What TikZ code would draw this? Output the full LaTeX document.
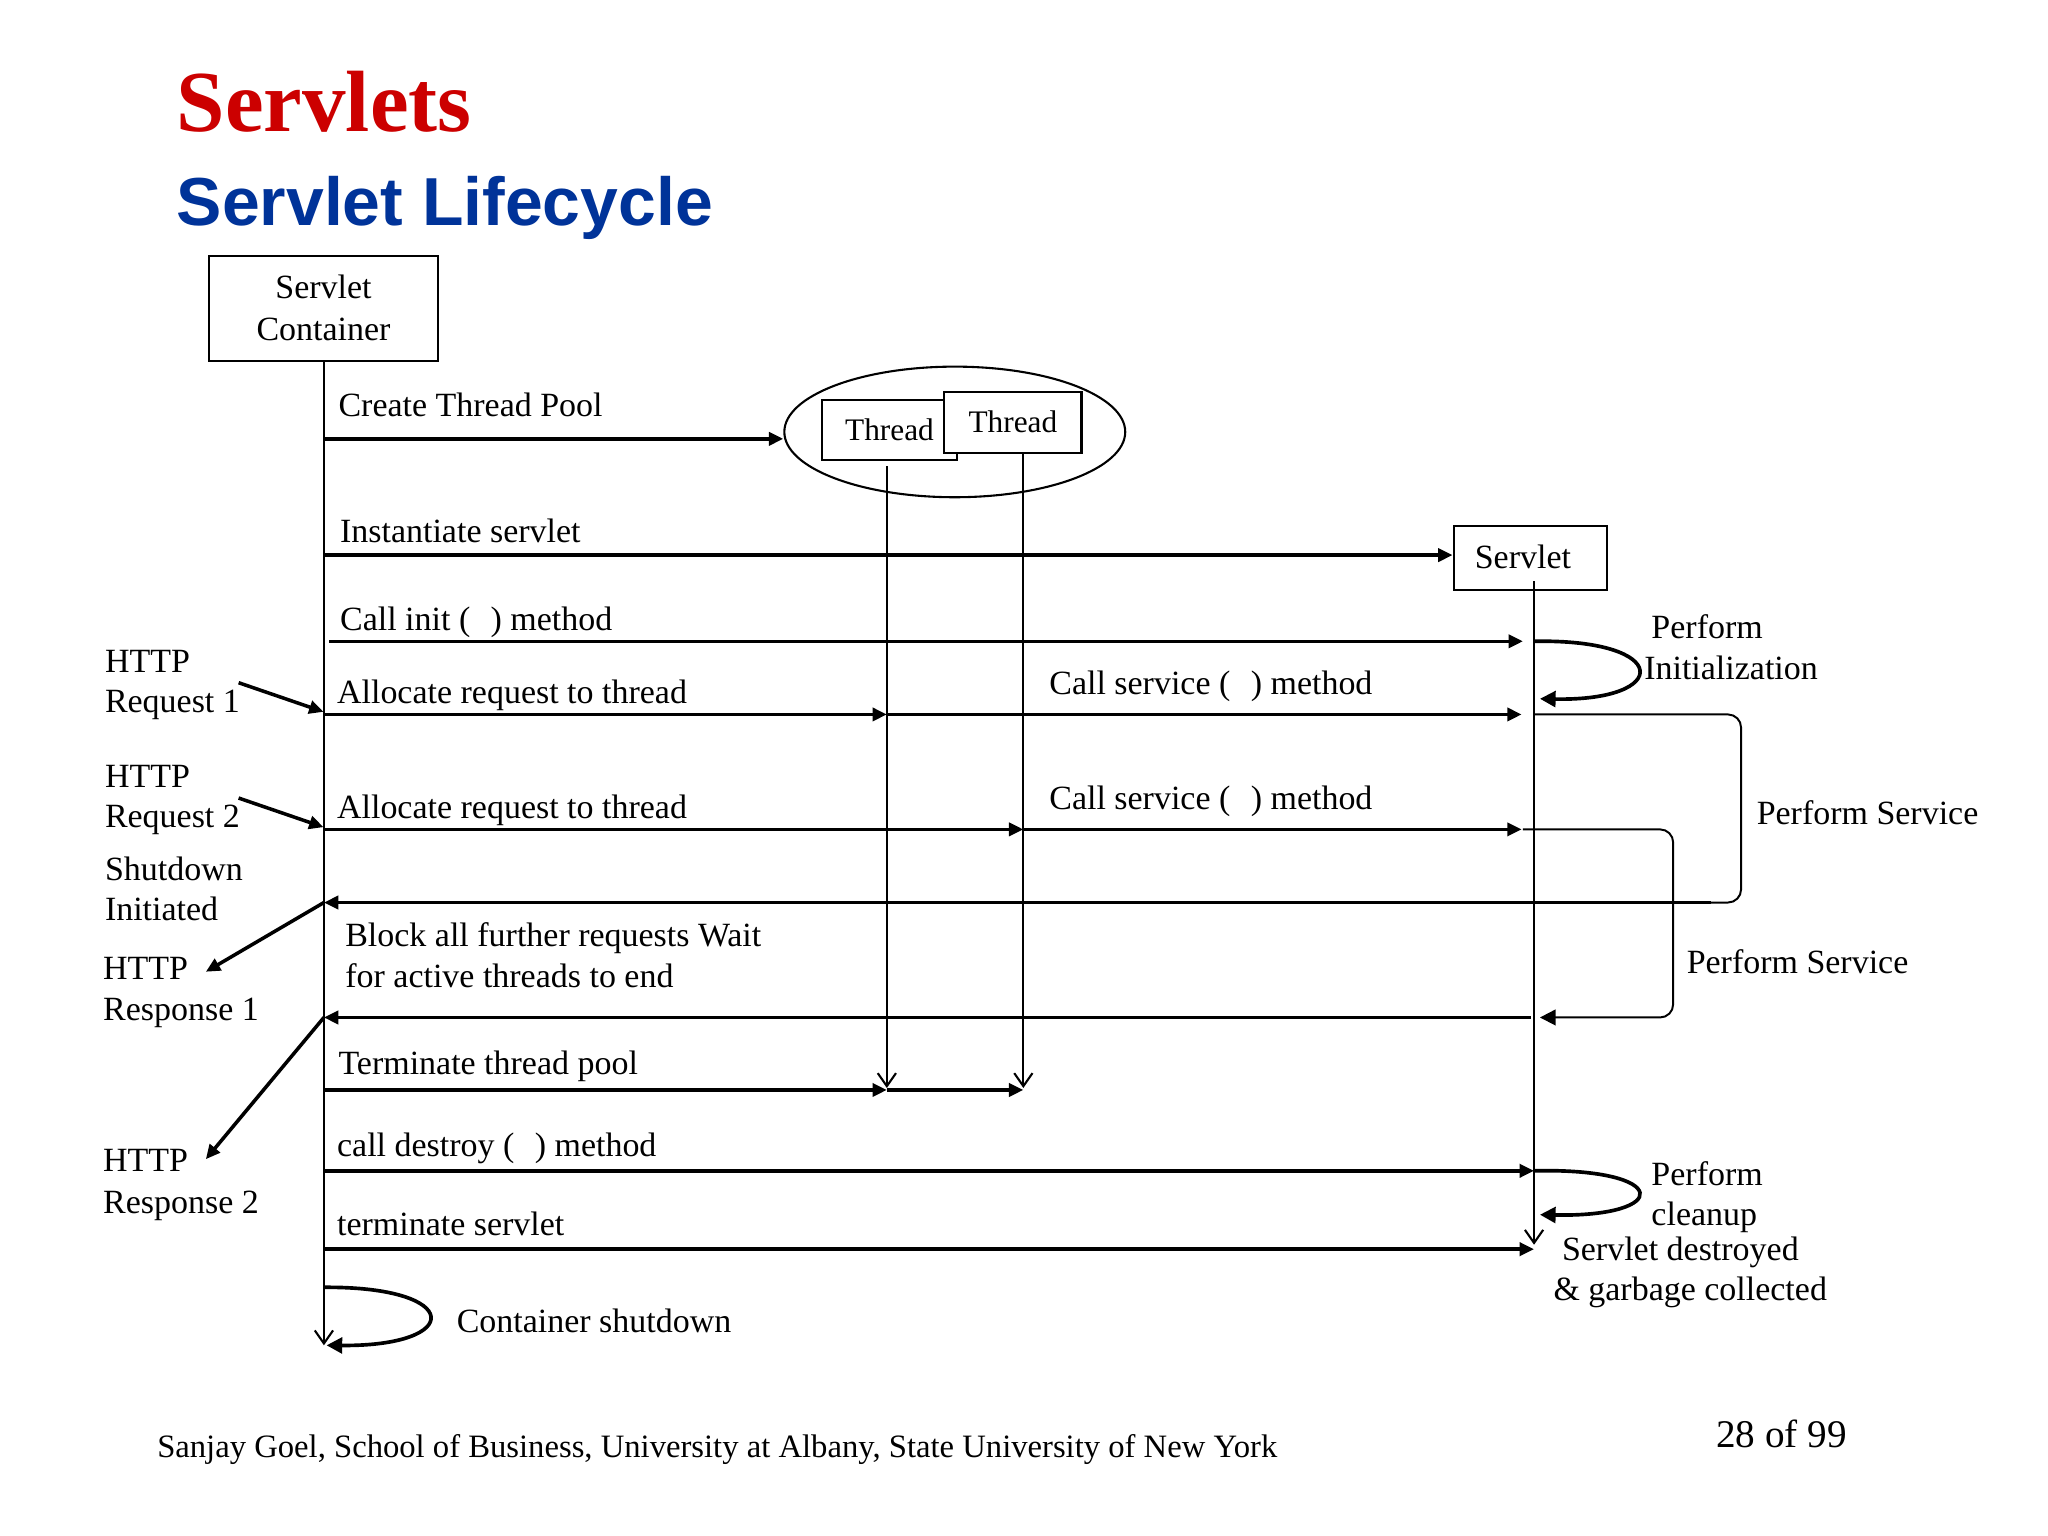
\documentclass[tikz,border=0pt]{standalone}
\usepackage{fontspec}
\setmainfont{Liberation Serif}
\newfontfamily\titlesans{Liberation Sans}
\usetikzlibrary{arrows.meta,shapes.geometric}
\definecolor{titlered}{RGB}{204,0,0}
\definecolor{titleblue}{RGB}{0,51,153}
\begin{document}
\begin{tikzpicture}[x=0.5pt,y=-0.5pt,
  txt/.style={anchor=base west, inner sep=0pt, font=\fontsize{13}{16}\selectfont},
  boxnode/.style={draw, line width=0.8pt, fill=white, inner sep=0pt, font=\fontsize{13}{16}\selectfont, align=center},
  msg/.style={line width=1.35pt, -{Triangle[length=5.5pt,width=5pt]}},
  thinline/.style={line width=0.75pt},
  life/.style={line width=0.8pt, -{Straight Barb[length=5pt,width=7pt]}},
  loopmsg/.style={line width=1.4pt, -{Triangle[length=6pt,width=6pt]}}
]
\useasboundingbox (0,0) rectangle (1568,1176);
\fill[white] (0,0) rectangle (1568,1176);

% titles
\node[anchor=base west, inner sep=0pt, text=titlered, font=\fontsize{33.3}{40}\selectfont\bfseries] (t1) at (135,101) {Servlets};
\node[anchor=base west, inner sep=0pt, text=titleblue, font=\titlesans\fontsize{26}{30}\selectfont\bfseries] (t2) at (135,172.5) {Servlet Lifecycle};

% participants
\node[boxnode, minimum width=87.7pt, minimum height=40.2pt] (cont) at (247.7,236) {Servlet\\Container};
\node[draw, ellipse, line width=0.8pt, minimum width=130.5pt, minimum height=50pt, inner sep=0pt] (pool) at (731,330.7) {};
\node[boxnode, minimum width=52pt, minimum height=23pt, font=\fontsize{12}{14}\selectfont] (th1) at (681,329.2) {Thread};
\node[boxnode, minimum width=52.5pt, minimum height=23.3pt, font=\fontsize{12}{14}\selectfont] (th2) at (775.5,323.3) {Thread};
\node[boxnode, minimum width=58.8pt, minimum height=24.5pt] (srv) at (1171.7,427.3) {};
\node[anchor=base, inner sep=0pt, font=\fontsize{13}{16}\selectfont] (srvT) at (1166,435.5) {Servlet};

% lifeline coordinates
\coordinate (cTop) at (248,276.2);
\coordinate (cEnd) at (248,1030);
\coordinate (t1Top) at (679,357);
\coordinate (t1End) at (679,833);
\coordinate (t2Top) at (783.5,346.6);
\coordinate (t2End) at (783.5,833);
\coordinate (sTop) at (1174.5,445);
\coordinate (sEnd) at (1174.5,953);

\draw[life] (cTop) -- (cEnd);
\draw[life] (t1Top) -- (t1End);
\draw[life] (t2Top) -- (t2End);
\draw[life] (sTop) -- (sEnd);

% message coordinates
\coordinate (cPool) at (248,336);
\coordinate (cInst) at (248,425);
\coordinate (cInit) at (252,491);
\coordinate (sInit) at (1166,491);
\coordinate (cA1) at (248,547);
\coordinate (tA1) at (679,547);
\coordinate (sA1) at (1165,547);
\coordinate (cA2) at (248,635);
\coordinate (tA2) at (783.5,635);
\coordinate (sA2) at (1165,635);
\coordinate (cR1) at (248,691);
\coordinate (cR2) at (248,779);
\coordinate (cTerm) at (248,834.5);
\coordinate (t1Term) at (679,834.5);
\coordinate (t2Term) at (783.5,834.5);
\coordinate (cDest) at (248,896.4);
\coordinate (sDest) at (1174.5,896.4);
\coordinate (cKill) at (248,956.4);
\coordinate (sKill) at (1174.5,956.4);

% messages
\draw[msg] (cPool) -- (pool.west |- cPool);
\draw[msg] (cInst) -- (srv.west |- cInst);
\draw[msg] (cInit) -- (sInit);
\draw[loopmsg] (1174.5,491) .. controls (1280,489) and (1280,537) .. (1179,535);

\draw[msg] (cA1) -- (tA1);
\draw[msg] (tA1) -- (sA1);
\draw[thinline, rounded corners=5pt] (1174.5,547) -- (1333,547) -- (1333,691) -- (1300,691);
\draw[msg] (1310,691) -- (cR1);

\draw[msg] (cA2) -- (tA2);
\draw[msg] (tA2) -- (sA2);
\draw[thinline, rounded corners=5pt, -{Triangle[length=6pt,width=6pt]}] (1166,635) -- (1281,635) -- (1281,779) -- (1179,779);
\draw[msg] (1172,779) -- (cR2);

% HTTP requests and responses
\coordinate (req1) at (182.7,522.7);
\coordinate (req2) at (182.7,611);
\coordinate (resp1) at (157.6,744);
\coordinate (resp2) at (157.6,887.5);
\draw[msg] (req1) -- (247.7,545);
\draw[msg] (req2) -- (247.7,633.3);
\draw[msg] (cR1) -- (resp1);
\draw[msg] (cR2) -- (resp2);

\draw[msg] (cTerm) -- (t1Term);
\draw[msg] (t1Term) -- (t2Term);
\draw[msg] (cDest) -- (sDest);
\draw[loopmsg] (1174.5,896.4) .. controls (1280,894) and (1280,932) .. (1179,930);
\draw[msg] (cKill) -- (sKill);
\draw[loopmsg] (248.8,985.6) .. controls (355,985) and (355,1031) .. (250,1030);

% labels
\node[txt] (lPool) at (258.8,319) {Create Thread Pool};
\node[txt] (lInst) at (260,415) {Instantiate servlet};
\node[txt] (lInit) at (260,483) {Call init (\hspace{0.6em}) method};
\node[txt] (lPI1) at (1264,489) {Perform};
\node[txt] (lPI2) at (1258.5,520.5) {Initialization};
\node[txt] (lH1a) at (80,514.5) {HTTP};
\node[txt] (lH1b) at (80,545.5) {Request 1};
\node[txt] (lA1) at (257.7,538.8) {Allocate request to thread};
\node[txt] (lS1) at (803,532) {Call service (\hspace{0.6em}) method};
\node[txt] (lH2a) at (80,602.6) {HTTP};
\node[txt] (lH2b) at (80,633.5) {Request 2};
\node[txt] (lA2) at (257.7,627) {Allocate request to thread};
\node[txt] (lS2) at (803,620) {Call service (\hspace{0.6em}) method};
\node[txt] (lPS1) at (1344.6,631.5) {Perform Service};
\node[txt] (lSD1) at (80,674) {Shutdown};
\node[txt] (lSD2) at (80,705) {Initiated};
\node[txt] (lBl1) at (264,725) {Block all further requests Wait};
\node[txt] (lBl2) at (264,756) {for active threads to end};
\node[txt] (lPS2) at (1291,745.5) {Perform Service};
\node[txt] (lR1a) at (78.6,750) {HTTP};
\node[txt] (lR1b) at (78.6,781) {Response 1};
\node[txt] (lTerm) at (258.8,822.3) {Terminate thread pool};
\node[txt] (lDest) at (257.7,885.6) {call destroy (\hspace{0.6em}) method};
\node[txt] (lR2a) at (78.6,897) {HTTP};
\node[txt] (lR2b) at (78.6,928.8) {Response 2};
\node[txt] (lPC1) at (1264,907.8) {Perform};
\node[txt] (lPC2) at (1264,938.5) {cleanup};
\node[txt] (lKill) at (257.7,946) {terminate servlet};
\node[txt] (lSDs1) at (1195.5,965.3) {Servlet destroyed};
\node[txt] (lSDs2) at (1189,996) {\& garbage collected};
\node[txt] (lShut) at (349.3,1020) {Container shutdown};

% footer
\node[anchor=base west, inner sep=0pt, font=\fontsize{12.5}{15}\selectfont] (foot) at (120,1115.6) {Sanjay Goel, School of Business, University at Albany, State University of New York};
\node[anchor=base west, inner sep=0pt, font=\fontsize{15}{18}\selectfont] (page) at (1313.6,1108) {28 of 99};
\end{tikzpicture}
\end{document}
